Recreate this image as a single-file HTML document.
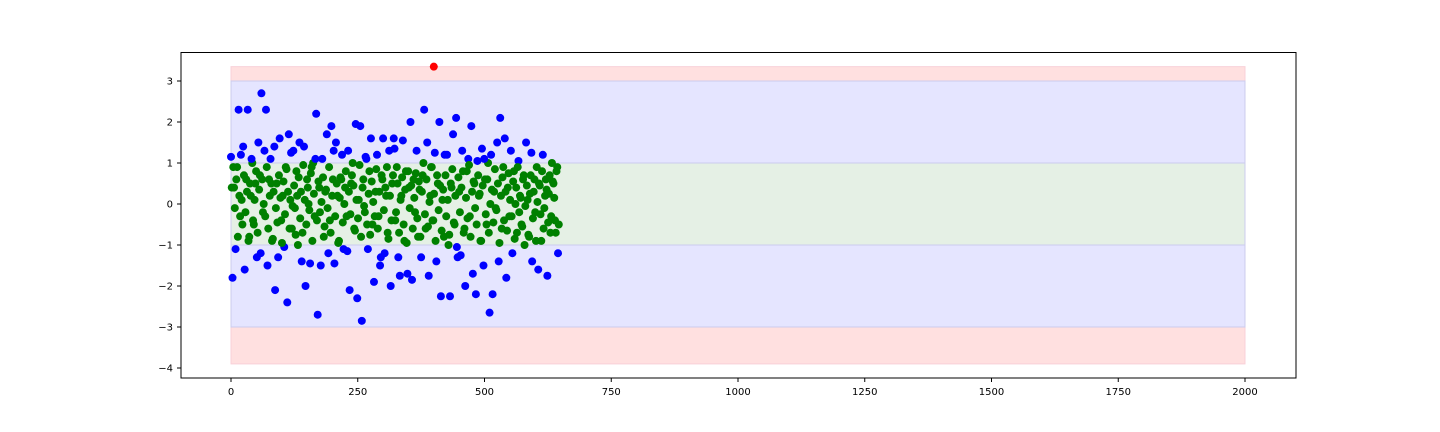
<!DOCTYPE html>
<html><head><meta charset="utf-8"><style>
body{margin:0;background:#fff;}
svg{display:block;font-family:"DejaVu Sans","Liberation Sans",sans-serif;}
</style></head><body>
<svg id="chart" width="1440" height="432"></svg>
<script>
const vals1=[1.15,-1.8,0.4,-1.1,0.9,2.3,-0.3,0.1,1.4,-1.6,0.6,2.3,-0.8,0.2,1.0,-0.5,0.5,-1.3,1.5,0.7,2.7,-0.2,1.3,2.3,-1.5,0.6,1.1,-0.9,0.3,-2.1,
0.5,-1.3,1.6,-0.4,0.2,-1.05,0.9,-2.4,1.7,0.1,-0.6,1.3,-0.1,0.8,-1.0,1.5,0.3,-0.7,1.4,-2.0,0.6,0.0,-1.45,0.9,1.0,-0.3,2.2,-2.7,0.4,-1.5,
1.1,-0.8,0.3,1.7,-1.2,-0.4,1.9,0.6,-1.45,1.5,0.2,-0.9,0.65,1.2,-1.1,0.4,-0.3,1.3,-2.1,0.5,1.0,-0.6,1.95,-2.3,0.1,1.9,-2.85,0.6,-0.2,1.1,
-1.1,0.8,1.6,-0.5,-1.9,0.3,1.2,-0.3,-1.5,0.7,1.6,-1.2,0.2,-0.7,1.3,-2.0,0.5,1.6,-0.4,0.9,-1.3,-1.75,0.2,1.55,-0.9,0.8,-1.7,0.4,2.0,-1.85,
0.6,-0.2,1.3,-0.8,0.35,-1.3,0.7,2.3,-0.6,1.5,-1.75,0.2,0.9,-0.4,1.25,-1.4,0.5,2.0,-2.25,0.1,-0.8,0.7,1.2,-1.0,-2.25,0.4,1.7,-0.5,2.1,-1.3,
0.3,-1.25,1.3,-0.7,-2.0,0.8,1.1,-0.3,1.9,-1.7,0.5,-2.2,1.05,0.2,-0.9,1.35,-1.5,0.6,-0.5,1.0,-2.65,1.2,-2.2,0.3,-0.1,1.5,-1.4,2.1,-0.6,0.9,
1.6,-1.8,0.4,-0.3,1.3,-1.2,0.8,0.0,-0.7,1.05,0.2,-0.5,0.6,-1.0,1.5,0.1,-0.8,0.7,-1.4,0.3,-0.2,0.9,-1.6,0.45,-0.9,1.2,-0.1,0.6,-1.75,0.25,
-0.7,1.0,0.5,-0.4,0.8,-1.2];
const vals2=[0.4,0.9,-0.1,0.6,-0.8,0.2,1.2,-0.5,0.7,-0.2,0.3,-0.9,0.5,1.1,-0.4,0.1,0.8,-0.7,0.35,-1.2,0.6,0.0,-0.3,0.9,-0.6,0.2,0.5,-0.85,1.4,-0.1,
-0.45,0.7,0.15,-0.95,0.55,-0.25,0.85,0.3,-0.6,1.25,-0.05,0.45,-0.75,0.2,0.65,-0.35,-1.4,0.95,0.1,-0.5,0.4,-0.15,0.75,-0.9,0.25,1.1,-0.4,0.55,-0.2,0.05,
0.65,-0.55,0.35,-0.1,0.9,-0.7,0.2,1.3,-0.3,0.5,-0.95,0.15,0.6,-0.45,0.0,0.8,-1.15,0.3,-0.25,0.7,0.45,-0.65,0.1,-0.35,0.95,-0.8,0.4,-0.05,1.15,-0.5,
0.25,-0.75,0.55,0.05,-0.3,0.85,-0.6,0.3,-1.3,0.6,-0.15,0.4,0.9,-0.85,0.2,-0.4,0.7,1.35,-0.2,0.5,-0.7,0.1,0.65,-0.5,0.35,-0.95,0.8,-0.1,0.45,-0.6,
0.15,0.75,-0.35,0.55,-0.8,0.3,1.0,-0.25,0.6,-0.55,0.05,0.9,-0.4,0.25,-0.9,0.7,-0.15,0.45,-0.65,0.35,1.2,-0.3,0.1,-0.75,0.5,0.85,-0.45,0.2,-1.05,0.65,
-0.2,0.4,0.8,-0.6,0.15,-0.35,0.95,-0.8,0.3,0.55,-0.1,-0.5,0.7,0.25,-0.9,0.45,1.1,-0.25,0.6,-0.7,0.0,0.35,-0.45,0.85,-0.15,0.5,-0.95,0.2,0.65,-0.4,
0.3,-0.65,0.75,0.1,-0.3,0.55,-0.85,0.4,0.9,-0.2,0.15,-0.55,0.7,-0.05,0.45,-0.75,0.25,1.25,-0.35,0.6,-0.9,0.05,0.5,-0.25,0.8,-0.6,0.2,0.35,-0.45,0.7,
-0.3,0.55,0.15,-0.7,0.9,-0.5];
const outlierX=[400];
const outlierY=[3.35];
const xTicks=[0,250,500,750,1000,1250,1500,1750,2000];
const yTicks=[3,2,1,0,-1,-2,-3,-4];
const bands=[[-3.9,3.35,'#ffe0e0'],[-3,3,'#e5e5ff'],[-1,1,'#e5f0e5']];

const NS='http://www.w3.org/2000/svg';
const svg=document.getElementById('chart');
const X=v=>231+v*(1014/2000);
const Y=v=>204-v*41;
function mk(t,a){const e=document.createElementNS(NS,t);for(const k in a)e.setAttribute(k,a[k]);svg.appendChild(e);return e;}

bands.forEach((b,i)=>{
  const r=mk('rect',{x:X(0),y:Y(b[1]),width:X(2000)-X(0),height:Y(b[0])-Y(b[1]),fill:b[2],stroke:i==0?'#f8d0d8':'#ccccee','stroke-width':1});
  
  
});
function dot(x,y,c,name){
  const d=mk('circle',{cx:X(x),cy:Y(y),r:4,fill:c});
  
  
}
vals1.forEach((v,i)=>dot(i*3,v,Math.abs(v)>1?'#0000ff':'#008000','point'));
vals2.forEach((v,i)=>dot(i*3+1.5,v,Math.abs(v)>1?'#0000ff':'#008000','point'));
outlierX.forEach((x,i)=>dot(x,outlierY[i],'#ff0000','outlier-point'));

const frame=mk('rect',{x:181,y:52.5,width:1115,height:325.5,fill:'none',stroke:'#000','stroke-width':1});


xTicks.forEach(t=>{
  mk('line',{x1:X(t),x2:X(t),y1:378,y2:382,stroke:'#000'});
  const l=mk('text',{x:X(t),y:395,'font-size':10,'text-anchor':'middle',fill:'#000'});
  l.textContent=t;
  
  
});
yTicks.forEach(t=>{
  mk('line',{x1:177,x2:181,y1:Y(t),y2:Y(t),stroke:'#000'});
  const l=mk('text',{x:173,y:Y(t)+3.5,'font-size':10,'text-anchor':'end',fill:'#000'});
  l.textContent=t<0?'\u2212'+(-t):t;
  
  
});
</script>
</body></html>
